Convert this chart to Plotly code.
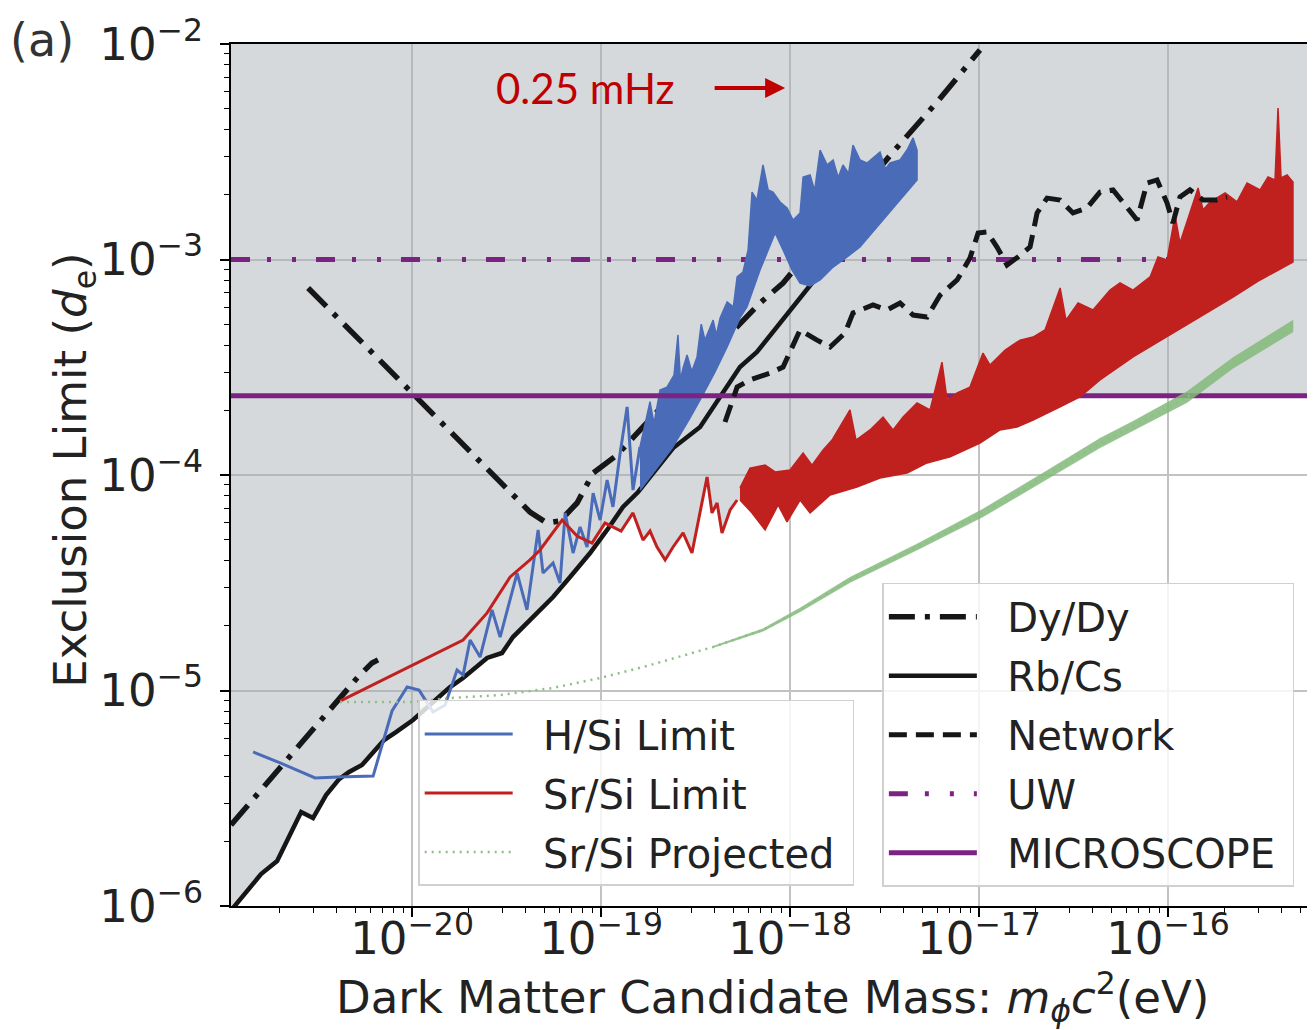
import math
import plotly.graph_objects as go

# ---------------- data (log10 of mass in eV, log10 of limit d_e) -------------
rbcs_log_mass = [-20.947, -20.799, -20.714, -20.587, -20.524, -20.455, -20.386, -20.333, -20.265, -20.201,
                 -20.148, -20.085, -19.995, -19.799, -19.730, -19.603, -19.524, -19.466, -19.376, -19.254,
                 -19.164, -19.058, -18.968, -18.884, -18.804, -18.619, -18.476, -18.370, -18.265, -18.175,
                 -18.053, -17.947, -17.857, -17.778]
rbcs_log_limit = [-6.009, -5.852, -5.791, -5.564, -5.592, -5.485, -5.411, -5.378, -5.346, -5.285,
                  -5.230, -5.193, -5.137, -4.984, -4.942, -4.849, -4.826, -4.752, -4.673, -4.566,
                  -4.473, -4.362, -4.255, -4.148, -4.079, -3.875, -3.777, -3.638, -3.499, -3.429,
                  -3.295, -3.174, -3.081, -2.993]

dydy_a_log_mass = [-20.958, -20.286, -20.212, -20.180]
dydy_a_log_limit = [-5.624, -4.937, -4.872, -4.858]
dydy_b_log_mass = [-20.550, -19.376, -19.286, -19.217, -19.127, -19.042, -18.915, -18.476, -18.159,
                   -18.037, -17.455, -17.222, -16.995]
dydy_b_log_limit = [-3.132, -4.172, -4.223, -4.213, -4.130, -3.991, -3.907, -3.490, -3.202,
                    -3.109, -2.501, -2.269, -2.028]

network_log_mass = [-18.344, -18.280, -18.212, -18.106, -18.037, -17.989, -17.947, -17.857, -17.788, -17.709,
                    -17.667, -17.561, -17.487, -17.418, -17.349, -17.275, -17.206, -17.116, -17.048, -17.005,
                    -16.958, -16.905, -16.852, -16.794, -16.730, -16.693, -16.640, -16.571, -16.503, -16.429,
                    -16.360, -16.291, -16.217, -16.164, -16.111, -16.058, -16.005, -15.974, -15.937, -15.884,
                    -15.815, -15.741, -15.688]
network_log_limit = [-3.754, -3.592, -3.559, -3.527, -3.499, -3.406, -3.327, -3.374, -3.406, -3.341,
                     -3.248, -3.211, -3.234, -3.202, -3.258, -3.267, -3.165, -3.095, -2.993, -2.877,
                     -2.872, -2.942, -3.026, -2.988, -2.942, -2.784, -2.715, -2.724, -2.784, -2.761,
                     -2.687, -2.677, -2.756, -2.817, -2.645, -2.631, -2.738, -2.831, -2.710, -2.677,
                     -2.724, -2.724, -2.710]

uw_limit = 1.0e-3
microscope_limit = 2.33e-4

hsi_log_mass = [-20.841, -20.698, -20.513, -20.392, -20.206, -20.106, -20.026, -19.963, -19.889, -19.825,
                -19.762, -19.730, -19.693, -19.640, -19.577, -19.534, -19.444, -19.392, -19.333, -19.307,
                -19.254, -19.217, -19.190, -19.148, -19.111, -19.074, -19.042, -19.005, -18.968, -18.937,
                -18.899, -18.862, -18.831, -18.794]
hsi_log_limit = [-5.285, -5.336, -5.406, -5.401, -5.397, -5.095, -4.984, -4.998, -5.100, -5.067,
                 -4.905, -4.928, -4.766, -4.845, -4.626, -4.752, -4.455, -4.626, -4.255, -4.455,
                 -4.408, -4.501, -4.176, -4.362, -4.241, -4.334, -4.084, -4.209, -4.023, -4.148,
                 -3.898, -3.684, -4.070, -3.870]
hsi_upper_log_mass = [-18.794, -18.741, -18.720, -18.688, -18.651, -18.614, -18.593, -18.580, -18.566, -18.545,
                      -18.520, -18.492, -18.470, -18.450, -18.407, -18.390, -18.370, -18.333, -18.300, -18.280,
                      -18.249, -18.222, -18.201, -18.175, -18.143, -18.116, -18.090, -18.053, -18.016, -17.984,
                      -17.947, -17.931, -17.894, -17.870, -17.841, -17.804, -17.772, -17.745, -17.720, -17.690,
                      -17.667, -17.630, -17.593, -17.561, -17.524, -17.495, -17.471, -17.418, -17.381, -17.349,
                      -17.328]
hsi_upper_log_limit = [-3.870, -3.660, -3.760, -3.606, -3.592, -3.536, -3.350, -3.560, -3.503, -3.443,
                       -3.520, -3.452, -3.300, -3.374, -3.281, -3.350, -3.271, -3.197, -3.220, -3.081,
                       -3.058, -2.956, -2.687, -2.724, -2.561, -2.677, -2.687, -2.733, -2.761, -2.817,
                       -2.784, -2.617, -2.608, -2.680, -2.492, -2.561, -2.538, -2.620, -2.561, -2.600,
                       -2.469, -2.538, -2.552, -2.529, -2.501, -2.580, -2.552, -2.538, -2.492, -2.436,
                       -2.492]
hsi_lower_log_mass = [-18.794, -18.714, -18.624, -18.529, -18.476, -18.397, -18.333, -18.265, -18.228, -18.159,
                      -18.122, -18.079, -18.037, -17.989, -17.947, -17.894, -17.841, -17.772, -17.698, -17.630,
                      -17.566, -17.508, -17.418, -17.328]
hsi_lower_log_limit = [-4.070, -3.977, -3.875, -3.735, -3.652, -3.522, -3.406, -3.271, -3.220, -3.049,
                       -2.970, -2.877, -2.956, -3.049, -3.109, -3.123, -3.095, -3.035, -2.988, -2.942,
                       -2.877, -2.817, -2.724, -2.631]

srsi_log_mass = [-20.381, -19.730, -19.603, -19.481, -19.376, -19.323, -19.206, -19.127, -19.048, -18.979,
                 -18.894, -18.831, -18.778, -18.741, -18.704, -18.661, -18.619, -18.566, -18.519, -18.476,
                 -18.439, -18.413, -18.386, -18.360, -18.317, -18.280]
srsi_log_limit = [-5.049, -4.766, -4.640, -4.473, -4.394, -4.348, -4.209, -4.283, -4.316, -4.223,
                  -4.260, -4.176, -4.302, -4.260, -4.334, -4.394, -4.334, -4.269, -4.362, -4.176,
                  -4.009, -4.176, -4.130, -4.269, -4.162, -4.116]
srsi_upper_log_mass = [-18.265, -18.212, -18.132, -18.079, -18.000, -17.931, -17.884, -17.825, -17.778, -17.735,
                       -17.683, -17.651, -17.577, -17.508, -17.455, -17.402, -17.328, -17.259, -17.196, -17.169,
                       -17.116, -17.048, -16.979, -16.942, -16.862, -16.783, -16.714, -16.651, -16.571, -16.540,
                       -16.476, -16.397, -16.307, -16.254, -16.185, -16.095, -16.053, -16.005, -15.963, -15.937,
                       -15.899, -15.841, -15.815, -15.778, -15.698, -15.635, -15.582, -15.513, -15.471, -15.434,
                       -15.418, -15.402, -15.370, -15.339]
srsi_upper_log_limit = [-4.060, -3.968, -3.954, -3.986, -3.977, -3.898, -3.954, -3.884, -3.838, -3.777,
                        -3.698, -3.838, -3.791, -3.731, -3.791, -3.731, -3.666, -3.698, -3.476, -3.652,
                        -3.619, -3.592, -3.434, -3.490, -3.420, -3.374, -3.360, -3.327, -3.132, -3.281,
                        -3.202, -3.234, -3.142, -3.109, -3.142, -3.081, -2.988, -3.002, -2.794, -2.923,
                        -2.826, -2.668, -2.770, -2.733, -2.691, -2.733, -2.645, -2.677, -2.617, -2.631,
                        -2.297, -2.622, -2.608, -2.640]
srsi_lower_log_mass = [-18.265, -18.201, -18.132, -18.063, -18.016, -17.947, -17.894, -17.788, -17.646, -17.524,
                       -17.381, -17.275, -17.153, -16.995, -16.889, -16.799, -16.714, -16.571, -16.466, -16.360,
                       -16.185, -16.005, -15.831, -15.656, -15.513, -15.339]
srsi_lower_log_limit = [-4.116, -4.176, -4.255, -4.139, -4.218, -4.116, -4.176, -4.093, -4.056, -4.014,
                        -3.991, -3.944, -3.916, -3.852, -3.791, -3.777, -3.745, -3.684, -3.638, -3.559,
                        -3.452, -3.360, -3.267, -3.174, -3.095, -3.012]

proj_log_mass = [-20.381, -19.995, -19.799, -19.534, -19.254, -19.005, -18.741, -18.407, -18.143, -17.947,
                 -17.683, -17.328, -16.979, -16.624, -16.360, -16.185, -15.899, -15.656, -15.339]
proj_log_limit = [-5.053, -5.053, -5.035, -5.021, -4.988, -4.942, -4.882, -4.798, -4.719, -4.626,
                  -4.487, -4.334, -4.176, -3.991, -3.852, -3.773, -3.638, -3.480, -3.309]
proj_band_log_mass = [-18.407, -18.143, -17.947, -17.683, -17.328, -16.979, -16.624, -16.360, -16.185,
                      -15.899, -15.656, -15.339]
proj_band_upper = [-4.795, -4.713, -4.617, -4.475, -4.320, -4.158, -3.971, -3.830, -3.751, -3.613, -3.455, -3.282]
proj_band_lower = [-4.801, -4.725, -4.635, -4.499, -4.348, -4.194, -4.011, -3.874, -3.795, -3.663, -3.505, -3.336]

x_tick_exps = [-20, -19, -18, -17, -16]
y_tick_exps = [-6, -5, -4, -3, -2]
X_RANGE = [-20.958, -15.233]
Y_RANGE = [-6.0, -2.0]


def pw(a):
    return [10 ** v for v in a]


def label(s, trail=""):
    # non-breaking spaces keep a gap between the legend line sample and its text
    return "\u00a0\u00a0" + s + trail


BLUE = "#4a6cb8"
RED = "#c0211f"
PURPLE = "#7b2382"
BLACK = "#161616"
GREEN = "#8dbf86"

fig = go.Figure()

# grey excluded region: above the tightest existing limits
bx = ([X_RANGE[0] - 0.05] + rbcs_log_mass[:22] + srsi_log_mass[9:] + srsi_lower_log_mass[:19]
      + [X_RANGE[1] + 0.05, X_RANGE[1] + 0.05, X_RANGE[0] - 0.05, X_RANGE[0] - 0.05])
by = ([Y_RANGE[0] - 0.05] + rbcs_log_limit[:22] + srsi_log_limit[9:] + srsi_lower_log_limit[:19]
      + [math.log10(microscope_limit), Y_RANGE[1] + 0.05, Y_RANGE[1] + 0.05, Y_RANGE[0] - 0.05])
fig.add_trace(go.Scatter(x=pw(bx), y=pw(by), mode="lines", fill="toself",
                         fillcolor="rgba(170,175,182,0.48)", line=dict(width=0),
                         showlegend=False, hoverinfo="skip"))

# Dy/Dy
fig.add_trace(go.Scatter(x=pw(dydy_a_log_mass) + [None] + pw(dydy_b_log_mass),
                         y=pw(dydy_a_log_limit) + [None] + pw(dydy_b_log_limit),
                         mode="lines", name=label("Dy/Dy"), legend="legend2", legendrank=1, legendgroup="a",
                         line=dict(color=BLACK, width=5.5, dash="26px,10px,5px,10px")))
# Rb/Cs
fig.add_trace(go.Scatter(x=pw(rbcs_log_mass), y=pw(rbcs_log_limit), mode="lines", name=label("Rb/Cs"),
                         legend="legend2", legendrank=2, legendgroup="b",
                         line=dict(color=BLACK, width=4.5)))
# UW
fig.add_trace(go.Scatter(x=[10 ** X_RANGE[0], 10 ** X_RANGE[1]], y=[uw_limit, uw_limit], mode="lines",
                         name=label("UW"), legend="legend2", legendrank=4, legendgroup="d",
                         line=dict(color=PURPLE, width=5, dash="19px,17px,4px,21px,4px,20px")))
# H/Si band + line
fig.add_trace(go.Scatter(x=pw(hsi_upper_log_mass + hsi_lower_log_mass[::-1]),
                         y=pw(hsi_upper_log_limit + hsi_lower_log_limit[::-1]),
                         mode="lines", fill="toself", fillcolor=BLUE, line=dict(color=BLUE, width=1.5),
                         showlegend=False, hoverinfo="skip"))
fig.add_trace(go.Scatter(x=pw(hsi_log_mass), y=pw(hsi_log_limit), mode="lines", name=label("H/Si Limit"),
                         legendrank=1, legendgroup="h", line=dict(color=BLUE, width=3)))
# MICROSCOPE
fig.add_trace(go.Scatter(x=[10 ** X_RANGE[0], 10 ** X_RANGE[1]], y=[microscope_limit, microscope_limit],
                         mode="lines", name=label("MICROSCOPE", "\u00a0"), legend="legend2", legendrank=5,
                         legendgroup="e", line=dict(color=PURPLE, width=5)))
# Sr/Si band + line
fig.add_trace(go.Scatter(x=pw(srsi_upper_log_mass + srsi_lower_log_mass[::-1]),
                         y=pw(srsi_upper_log_limit + srsi_lower_log_limit[::-1]),
                         mode="lines", fill="toself", fillcolor=RED, line=dict(color=RED, width=1.5),
                         showlegend=False, hoverinfo="skip"))
fig.add_trace(go.Scatter(x=pw(srsi_log_mass), y=pw(srsi_log_limit), mode="lines", name=label("Sr/Si Limit"),
                         legendrank=2, legendgroup="s", line=dict(color=RED, width=3)))
# Network
fig.add_trace(go.Scatter(x=pw(network_log_mass), y=pw(network_log_limit), mode="lines", name=label("Network"),
                         legend="legend2", legendrank=3, legendgroup="c",
                         line=dict(color=BLACK, width=5, dash="18px,9px")))
# Sr/Si projected
fig.add_trace(go.Scatter(x=pw(proj_band_log_mass + proj_band_log_mass[::-1]),
                         y=pw(proj_band_upper + proj_band_lower[::-1]),
                         mode="lines", fill="toself", fillcolor="rgba(130,185,122,0.85)",
                         line=dict(color="rgba(130,185,122,0.85)", width=0.5),
                         showlegend=False, hoverinfo="skip"))
fig.add_trace(go.Scatter(x=pw(proj_log_mass), y=pw(proj_log_limit), mode="lines",
                         name=label("Sr/Si Projected", "\u00a0"),
                         legendrank=3, legendgroup="p",
                         line=dict(color=GREEN, width=2.5, dash="2px,5px")))

FONT = "DejaVu Sans"
x_minor = [m * 10.0 ** e for e in range(-21, -15) for m in range(2, 10)]
y_minor = [m * 10.0 ** e for e in range(-6, -2) for m in range(2, 10)]

axis_common = dict(type="log", showgrid=True, gridcolor="#c2c2c2", gridwidth=1.5, zeroline=False,
                   showline=True, linecolor="black", linewidth=2, mirror=True, automargin=False,
                   ticks="outside", ticklen=9, tickwidth=1.5, tickcolor="black",
                   tickfont=dict(family=FONT, size=45, color="#222"))

# the page body keeps the browser's default 8px margin, so the figure is sized to fit inside it
fig.update_layout(
    width=1307, height=1022,
    margin=dict(l=223, r=2, t=36, b=124),
    plot_bgcolor="white", paper_bgcolor="white",
    font=dict(family=FONT, color="#222"),
    xaxis=dict(axis_common, range=X_RANGE,
               tickvals=[10.0 ** e for e in x_tick_exps],
               ticktext=[f"10<sup>−{-e}</sup>" for e in x_tick_exps],
               ticklabelstandoff=-17,
               minor=dict(tickvals=x_minor, ticks="outside", ticklen=5, tickwidth=1, tickcolor="black",
                          showgrid=False)),
    yaxis=dict(axis_common, range=Y_RANGE,
               tickvals=[10.0 ** e for e in y_tick_exps],
               ticktext=[f"10<sup>−{-e}</sup>" for e in y_tick_exps],
               ticklabelstandoff=8,
               minor=dict(tickvals=y_minor, ticks="outside", ticklen=5, tickwidth=1, tickcolor="black",
                          showgrid=False)),
    legend=dict(x=0.173, y=0.239, xanchor="left", yanchor="top", bgcolor="rgba(255,255,255,0.82)",
                bordercolor="#d0d0d0", borderwidth=1.5, font=dict(family=FONT, size=40, color="#222"),
                tracegroupgap=4, itemwidth=88),
    legend2=dict(x=0.602, y=0.375, xanchor="left", yanchor="top", bgcolor="rgba(255,255,255,0.82)",
                 bordercolor="#d0d0d0", borderwidth=1.5, font=dict(family=FONT, size=40, color="#222"),
                 tracegroupgap=4, itemwidth=88),
    annotations=[
        dict(text="Dark Matter Candidate Mass: <i>m</i><sub><i>ϕ</i></sub><i>c</i><sup>2</sup>(eV)",
             xref="paper", yref="paper", x=0.5, y=-0.106, xanchor="center", yanchor="middle",
             showarrow=False, font=dict(family=FONT, size=45, color="#222")),
        dict(text="Exclusion Limit (<i>d</i><sub>e</sub>)", textangle=-90,
             xref="paper", yref="paper", x=-0.146, y=0.505, xanchor="center", yanchor="middle",
             showarrow=False, font=dict(family=FONT, size=45, color="#222")),
        dict(text="(a)", xref="paper", yref="paper", x=-0.175, y=1.005, xanchor="center",
             yanchor="middle", showarrow=False, font=dict(family=FONT, size=46, color="#333")),
        dict(text="0.25 mHz", xref="paper", yref="paper", x=0.327, y=0.949, xanchor="center",
             yanchor="middle", showarrow=False, font=dict(family="Lato", size=42, color="#c00000")),
        dict(text="", x=-18.026, y=-2.204, xref="x", yref="y", showarrow=True, ax=-72, ay=0,
             axref="pixel", ayref="pixel", arrowhead=2, arrowsize=1, arrowwidth=4, arrowcolor="#c00000"),
    ],
)

fig.write_html("out.html")
